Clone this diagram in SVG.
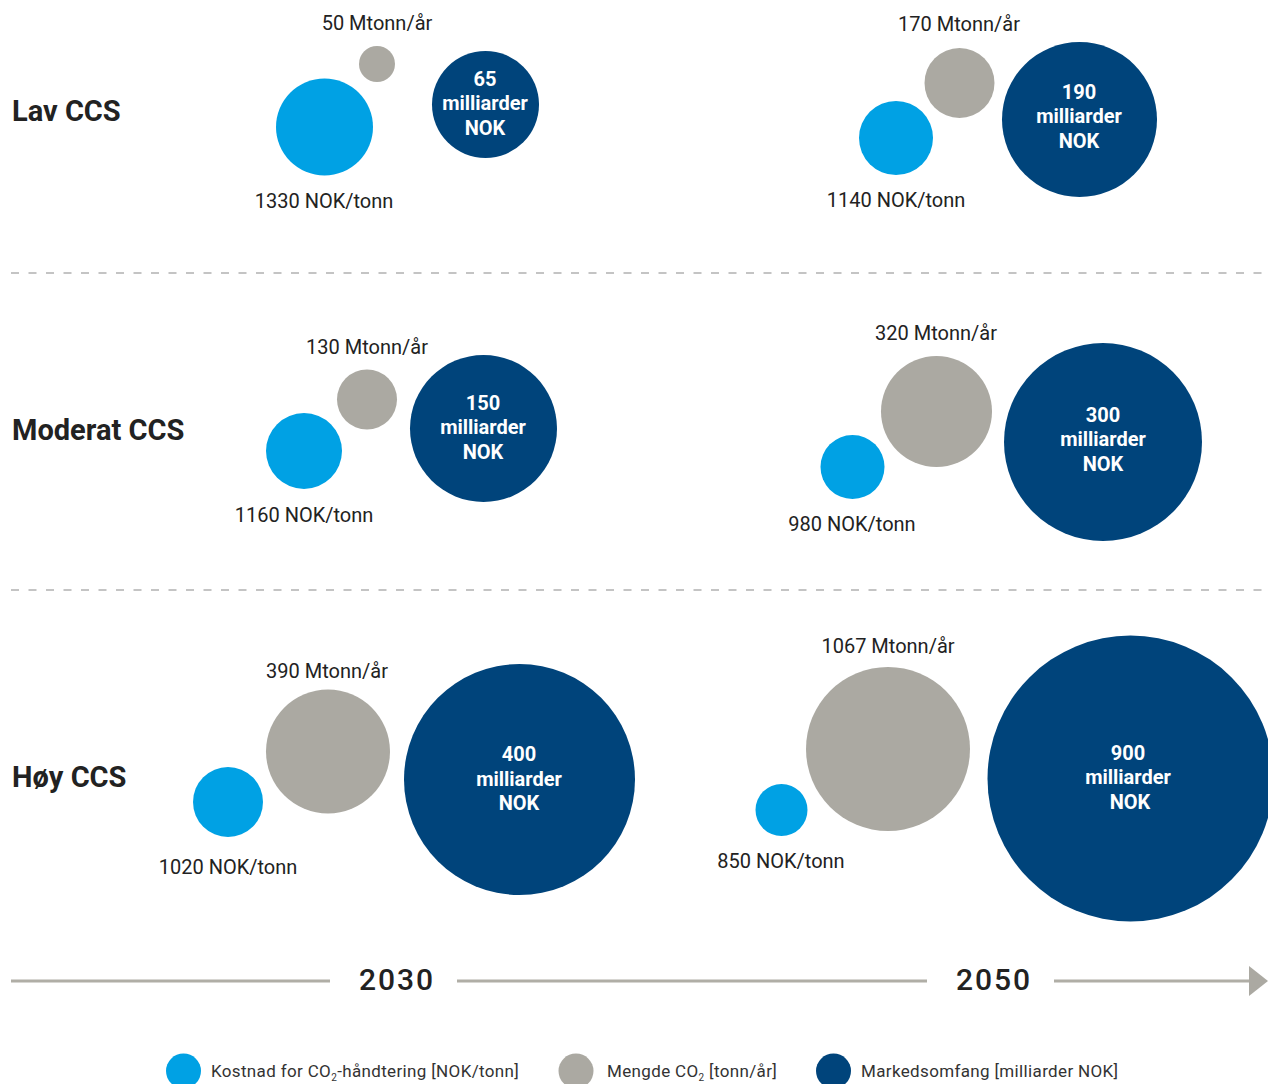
<svg xmlns="http://www.w3.org/2000/svg" width="1268" height="1084" viewBox="0 0 1268 1084">
<style>
.c{fill:#00a1e4}.g{fill:#aba9a2}.n{fill:#00447b}
.lbl{font-family:Roboto,"Liberation Sans",sans-serif;font-size:20px;fill:#222;text-anchor:middle}
.in{font-family:Roboto,"Liberation Sans",sans-serif;font-size:20px;font-weight:bold;fill:#fff;text-anchor:middle}
.row{font-family:Roboto,"Liberation Sans",sans-serif;font-size:29px;font-weight:bold;fill:#222}
.yr{font-family:Roboto,"Liberation Sans",sans-serif;font-size:30px;font-weight:500;fill:#222;text-anchor:middle;letter-spacing:2px}
.lg{font-family:Roboto,"Liberation Sans",sans-serif;font-size:17px;fill:#333;letter-spacing:0.35px}
.dash{stroke:#c4c4c4;stroke-width:2;stroke-dasharray:8 9.5;fill:none}
.ax{stroke:#b0aea6;stroke-width:3;fill:none}
</style>
<rect width="1268" height="1084" fill="#fff"/>
<g id="separators">
<line class="dash" x1="11" y1="273" x2="1262" y2="273"/>
<line class="dash" x1="11" y1="590" x2="1262" y2="590"/>
</g>
<g id="row-labels">
<text class="row" x="12" y="121">Lav CCS</text>
<text class="row" x="12" y="440">Moderat CCS</text>
<text class="row" x="12" y="787">Høy CCS</text>
</g>
<g id="lav-2030">
<circle class="c" cx="324.5" cy="127" r="48.5"/>
<circle class="g" cx="377" cy="64" r="18"/>
<circle class="n" cx="485.5" cy="104.5" r="53.5"/>
<text class="lbl" x="377" y="30">50 Mtonn/år</text>
<text class="lbl" x="324" y="208">1330 NOK/tonn</text>
<text class="in" x="485" y="86">65</text>
<text class="in" x="485" y="110">milliarder</text>
<text class="in" x="485" y="135">NOK</text>
</g>
<g id="lav-2050">
<circle class="c" cx="896" cy="138" r="37"/>
<circle class="g" cx="959.5" cy="83" r="35"/>
<circle class="n" cx="1079.5" cy="119.5" r="77.5"/>
<text class="lbl" x="959" y="31">170 Mtonn/år</text>
<text class="lbl" x="896" y="207">1140 NOK/tonn</text>
<text class="in" x="1079" y="99">190</text>
<text class="in" x="1079" y="123">milliarder</text>
<text class="in" x="1079" y="148">NOK</text>
</g>
<g id="moderat-2030">
<circle class="c" cx="304" cy="451" r="38"/>
<circle class="g" cx="367" cy="399.5" r="30"/>
<circle class="n" cx="483.5" cy="428.5" r="73.5"/>
<text class="lbl" x="367" y="354">130 Mtonn/år</text>
<text class="lbl" x="304" y="522">1160 NOK/tonn</text>
<text class="in" x="483" y="410">150</text>
<text class="in" x="483" y="434">milliarder</text>
<text class="in" x="483" y="459">NOK</text>
</g>
<g id="moderat-2050">
<circle class="c" cx="852.5" cy="467" r="32"/>
<circle class="g" cx="936.5" cy="411.5" r="55.5"/>
<circle class="n" cx="1103" cy="442" r="99"/>
<text class="lbl" x="936" y="340">320 Mtonn/år</text>
<text class="lbl" x="852" y="531">980 NOK/tonn</text>
<text class="in" x="1103" y="422">300</text>
<text class="in" x="1103" y="446">milliarder</text>
<text class="in" x="1103" y="471">NOK</text>
</g>
<g id="hoy-2030">
<circle class="c" cx="228" cy="802" r="35"/>
<circle class="g" cx="328" cy="751.5" r="62"/>
<circle class="n" cx="519.5" cy="779.5" r="115.5"/>
<text class="lbl" x="327" y="678">390 Mtonn/år</text>
<text class="lbl" x="228" y="874">1020 NOK/tonn</text>
<text class="in" x="519" y="761">400</text>
<text class="in" x="519" y="786">milliarder</text>
<text class="in" x="519" y="810">NOK</text>
</g>
<g id="hoy-2050">
<circle class="c" cx="781.5" cy="810" r="26"/>
<circle class="g" cx="888" cy="749" r="82"/>
<circle class="n" cx="1130.5" cy="778.5" r="143"/>
<text class="lbl" x="888" y="653">1067 Mtonn/år</text>
<text class="lbl" x="781" y="868">850 NOK/tonn</text>
<text class="in" x="1128" y="760">900</text>
<text class="in" x="1128" y="784">milliarder</text>
<text class="in" x="1130" y="809">NOK</text>
</g>
<g id="timeline">
<line class="ax" x1="11" y1="981" x2="330" y2="981"/>
<line class="ax" x1="457" y1="981" x2="927" y2="981"/>
<line class="ax" x1="1054" y1="981" x2="1252" y2="981"/>
<polygon points="1249,966 1268,981 1249,996" fill="#aba9a2"/>
<text class="yr" x="397" y="990">2030</text>
<text class="yr" x="994" y="990">2050</text>
</g>
<g id="legend">
<circle class="c" cx="183.5" cy="1071" r="17.5"/>
<text class="lg" x="211" y="1077">Kostnad for CO<tspan font-size="10" dy="4">2</tspan><tspan dy="-4">-håndtering [NOK/tonn]</tspan></text>
<circle class="g" cx="576" cy="1071" r="17.5"/>
<text class="lg" x="607" y="1077">Mengde CO<tspan font-size="10" dy="4">2</tspan><tspan dy="-4"> [tonn/år]</tspan></text>
<circle class="n" cx="833.5" cy="1071" r="17.5"/>
<text class="lg" x="861" y="1077">Markedsomfang [milliarder NOK]</text>
</g>
</svg>
